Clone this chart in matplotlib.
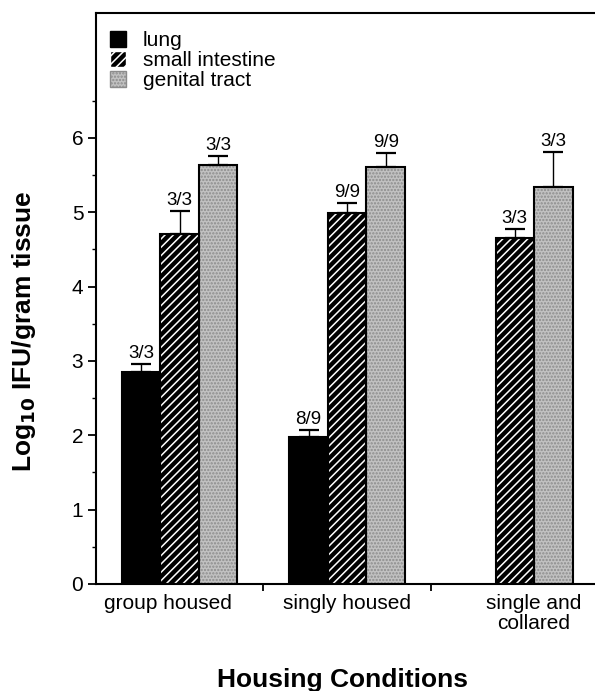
import numpy as np
import matplotlib
matplotlib.use("Agg")
import matplotlib.pyplot as plt
from matplotlib.patches import Patch

plt.rcParams['font.family'] = ['Liberation Sans', 'DejaVu Sans']
plt.rcParams['hatch.linewidth'] = 1.1

groups = ["group housed", "singly housed", "single and\ncollared"]
tissues = ["lung", "small intestine", "genital tract"]

lung = [2.85, 1.98, np.nan]
lung_err = [0.11, 0.09, 0.0]
small_intestine = [4.71, 4.99, 4.66]
small_intestine_err = [0.31, 0.14, 0.12]
genital_tract = [5.63, 5.61, 5.34]
genital_tract_err = [0.13, 0.19, 0.47]

lung_n = ["3/3", "8/9", ""]
small_intestine_n = ["3/3", "9/9", "3/3"]
genital_tract_n = ["3/3", "9/9", "3/3"]


def draw_series(ax, x, vals, errs, labels, face, hatch=None, hatch_color=None):
    vals = np.asarray(vals, dtype=float)
    errs = np.asarray(errs, dtype=float)
    ok = ~np.isnan(vals)
    x, vals, errs = x[ok], vals[ok], errs[ok]
    labels = [l for l, k in zip(labels, ok) if k]
    if hatch:
        ax.bar(x, vals, width=w, color=face, edgecolor=hatch_color,
               hatch=hatch, linewidth=0, zorder=2)
    else:
        ax.bar(x, vals, width=w, color=face, linewidth=0, zorder=2)
    # outline drawn separately so the hatch can stay white
    ax.bar(x, vals, width=w, fill=False, edgecolor='black', linewidth=1.5, zorder=3)
    ax.errorbar(x, vals, yerr=[np.zeros_like(errs), errs], fmt='none',
                ecolor='black', elinewidth=1.0, capsize=7, capthick=1.6, zorder=4)
    for xi, v, e, t in zip(x, vals, errs, labels):
        ax.annotate(t, (xi, v + e), xytext=(0, 1.5), textcoords='offset points',
                    ha='center', va='bottom', fontsize=13.5)


fig = plt.figure(figsize=(5.95, 6.91), dpi=100)
ax = fig.add_axes([0.161, 0.155, 0.845, 0.826])

x = np.arange(len(groups))
w = 0.23
draw_series(ax, x - w, lung, lung_err, lung_n, 'black')
draw_series(ax, x, small_intestine, small_intestine_err, small_intestine_n,
            'black', hatch='////', hatch_color='white')
draw_series(ax, x + w, genital_tract, genital_tract_err, genital_tract_n,
            '#c2c2c2', hatch='.' * 5, hatch_color='#8c8c8c')

ax.set_xlim(-0.5, 2.5)
ax.set_ylim(0, 7.68)

for side in ['left', 'top', 'bottom']:
    ax.spines[side].set_linewidth(1.5)
ax.spines['right'].set_visible(False)

ax.set_yticks(range(0, 7))
ax.set_yticks(np.arange(0.5, 7.0, 1.0), minor=True)
ax.tick_params(axis='y', which='major', length=6, width=1.3, labelsize=15, pad=3)
ax.tick_params(axis='y', which='minor', length=3, width=1.0)

ax.set_xticks([0.5, 1.5])
ax.set_xticklabels([])
ax.tick_params(axis='x', which='major', length=5, width=1.3)

label_x = [-0.07, 1.0, 2.11]
for lx, g in zip(label_x, groups):
    ax.text(lx, -0.13, g, ha='center', va='top', fontsize=15,
            linespacing=1.1)

fig.text(0.04, 0.52, r"Log$_{\mathbf{10}}$ IFU/gram tissue", rotation=90,
         ha='center', va='center', fontsize=19, fontweight='bold')
fig.text(0.575, 0.006, "Housing Conditions", ha='center', va='baseline',
         fontsize=19, fontweight='bold')

handles = [
    Patch(facecolor='black', edgecolor='black'),
    Patch(facecolor='black', edgecolor='white', hatch='////'),
    Patch(facecolor='#c2c2c2', edgecolor='#8c8c8c', hatch='.' * 5),
]
ax.legend(handles, tissues, loc='upper left', bbox_to_anchor=(0.0, 0.995),
          frameon=False, fontsize=15, handlelength=0.75, handleheight=0.8,
          handletextpad=0.8, labelspacing=0.05, borderaxespad=0.3)

fig.savefig("out.png", dpi=100)
